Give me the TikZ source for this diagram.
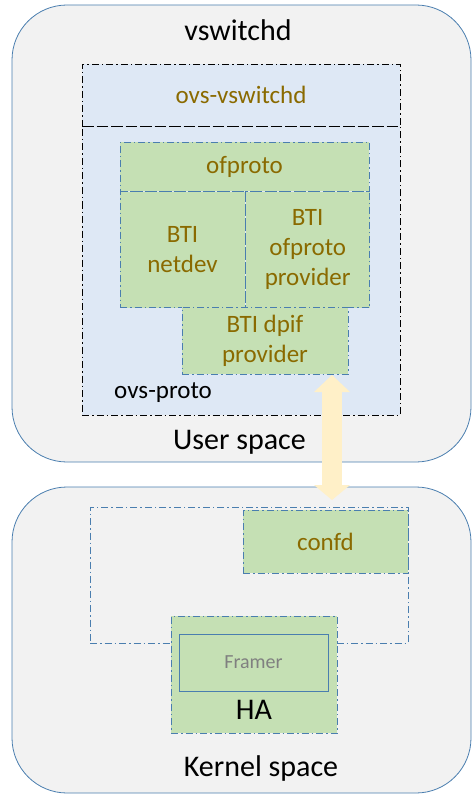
\documentclass[tikz,border=0pt]{standalone}
\usepackage{fontspec}
\setmainfont{Carlito}
\usetikzlibrary{positioning,arrows.meta}

\definecolor{spacefill}{HTML}{F2F2F2}
\definecolor{spaceline}{HTML}{4A7EAF}
\definecolor{ovsfill}{HTML}{DEE8F5}
\definecolor{btifill}{HTML}{C5E0B4}
\definecolor{btitext}{HTML}{8A6A00}
\definecolor{arrowfill}{HTML}{FFF0C8}

\tikzstyle{spacebox} = [draw=spaceline,fill=spacefill,line width=0.8pt,rectangle,rounded corners=55pt]
\tikzstyle{ovsbox} = [draw=black,fill=ovsfill,line width=0.8pt,dash pattern=on 7pt off 3pt on 1.5pt off 3pt,rectangle,font=\fontsize{25}{30}\selectfont,text=btitext]
\tikzstyle{btibox} = [align=center,draw=spaceline,fill=btifill,line width=0.7pt,dash pattern=on 7pt off 3pt on 1.5pt off 3pt,rectangle,font=\fontsize{25}{30}\selectfont,text=btitext,text centered]
\tikzstyle{cfgframe} = [draw=spaceline,line width=0.7pt,dash pattern=on 7pt off 3pt on 1.5pt off 3pt,rectangle]
\tikzstyle{spacelabel} = [anchor=base,inner sep=0pt,font=\fontsize{30}{36}\selectfont]
\tikzstyle{swap} = [line width=20pt,draw=arrowfill,{Triangle[width=36pt,length=17pt,line width=0pt]}-{Triangle[width=36pt,length=15pt,line width=0pt]}]

\begin{document}
\begin{tikzpicture}[x=1pt,y=-1pt]
	\useasboundingbox (0,0) rectangle (473,794);
	\node (user) [spacebox,minimum width=459pt,minimum height=457pt] at (241.5,233.5) {};
	\node (kernel) [spacebox,minimum width=459pt,minimum height=306pt] at (241.5,640) {};
	\node (vswitchd) [spacelabel] at (238,41) {vswitchd};
	\node (userlabel) [spacelabel] at (239.5,449) {User space};
	\node (kernellabel) [spacelabel] at (261,776) {Kernel space};
	\node (ovsproto) [ovsbox,minimum width=318pt,minimum height=289pt] at (241,270.5) {};
	\node (protolabel) [anchor=base west,inner sep=0pt,font=\fontsize{25}{30}\selectfont] at (114,398) {ovs-proto};
	\node (ovsvswitchd) [ovsbox,minimum width=318pt,minimum height=62pt] at (241,95) {ovs-vswitchd};
	\node (ofproto) [btibox,minimum width=249pt,minimum height=49pt] at (244.5,166.5) {ofproto};
	\node (netdev) [btibox,minimum width=125pt,minimum height=116pt,anchor=north west] at (ofproto.south west) {BTI\\netdev};
	\node (ofprov) [btibox,minimum width=124pt,minimum height=116pt,right=0pt of netdev] {BTI\\ofproto\\provider};
	\node (dpif) [btibox,minimum width=166pt,minimum height=67pt] at (265,340.5) {BTI dpif\\provider};
	\node (cfg) [cfgframe,minimum width=318pt,minimum height=136pt] at (249,575) {};
	\node (confd) [btibox,minimum width=165pt,minimum height=63pt] at (325.5,541.5) {confd};
	\node (ha) [btibox,minimum width=166pt,minimum height=117pt] at (254,674.5) {};
	\node (framer) [draw=spaceline,fill=btifill,line width=0.8pt,rectangle,minimum width=149pt,minimum height=57pt,font=\fontsize{20}{24}\selectfont,text=black!50] at (253.5,662.5) {Framer};
	\node (halabel) [spacelabel] at (254,719) {HA};
	\coordinate (swaptop) at (332,375);
	\coordinate (swapbot) at (332,500);
	\draw [swap] (swaptop) -- (swapbot);
\end{tikzpicture}
\end{document}
